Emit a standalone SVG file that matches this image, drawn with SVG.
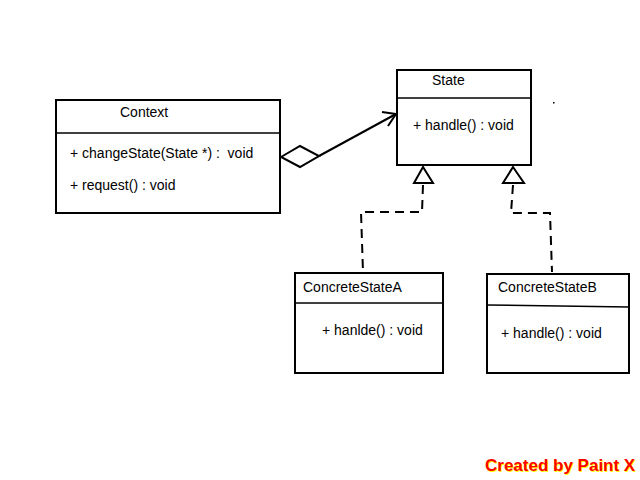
<svg xmlns="http://www.w3.org/2000/svg" width="640" height="480" viewBox="0 0 640 480">
<style>
.box{fill:#fff;stroke:#000;stroke-width:2}
.div{stroke:#000;stroke-width:1.6;fill:none}
.t{font-family:"Liberation Sans",Arial,sans-serif;font-size:14px;fill:#000}
.ln{stroke:#000;stroke-width:2;fill:none}
.dash{stroke:#000;stroke-width:2;fill:none;stroke-dasharray:9,6}
.wm{font-family:"Liberation Sans",Arial,sans-serif;font-size:17px;font-weight:bold}
</style>
<rect width="640" height="480" fill="#fff"/>
<g id="connectors">
<polygon class="ln" points="281,157 300,146 319,156 300,167" fill="#fff"/>
<line class="ln" x1="319" y1="156" x2="396" y2="114"/>
<polyline class="ln" points="382,112 396,114 388,126"/>
<polygon class="ln" points="423,167 414,183 433,183" fill="#fff"/>
<polyline class="dash" points="423,185 422,212 361,212 363,272"/>
<polygon class="ln" points="513,167 503,183 524,183" fill="#fff"/>
<polyline class="dash" points="513,185 511,213 550,213 552,272"/>
</g>
<g id="context">
<rect class="box" x="56" y="100" width="224" height="113"/>
<line class="div" x1="56" y1="133" x2="280" y2="133"/>
<text class="t" x="120" y="117">Context</text>
<text class="t" x="70" y="158" xml:space="preserve">+ changeState(State *) :  void</text>
<text class="t" x="70" y="190">+ request() : void</text>
</g>
<g id="state">
<rect class="box" x="397" y="70" width="134" height="95"/>
<line class="div" x1="397" y1="98" x2="531" y2="98"/>
<text class="t" x="432" y="85">State</text>
<text class="t" x="413" y="130">+ handle() : void</text>
</g>
<g id="concreteStateA">
<rect class="box" x="295" y="273" width="148" height="100"/>
<line class="div" x1="295" y1="303" x2="443" y2="303"/>
<text class="t" x="303" y="292">ConcreteStateA</text>
<text class="t" x="322" y="335">+ hanlde() : void</text>
</g>
<g id="concreteStateB">
<rect class="box" x="487" y="274" width="142" height="99"/>
<line class="div" x1="487" y1="305" x2="629" y2="307"/>
<text class="t" x="498" y="292">ConcreteStateB</text>
<text class="t" x="501" y="338">+ handle() : void</text>
</g>
<rect x="553" y="102" width="1.5" height="1.5" fill="#000"/>
<text class="wm" x="486" y="472" fill="#ff0">Created by Paint X</text>
<text class="wm" x="485" y="471" fill="#f00">Created by Paint X</text>
</svg>
